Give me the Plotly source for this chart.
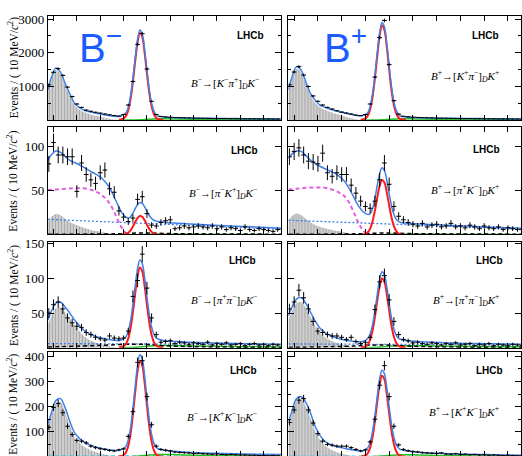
import math
import plotly.graph_objects as go

W, H = 522, 456

# ---------------- x grids (MeV/c^2) ----------------
MASS_BINS = [5085, 5095, 5105, 5115, 5125, 5135, 5145, 5155, 5165, 5175,
             5185, 5195, 5205, 5215, 5225, 5235, 5245, 5255, 5265, 5275,
             5285, 5295, 5305, 5315, 5325, 5335, 5345, 5355, 5365, 5375,
             5385, 5395, 5405, 5415, 5425, 5435, 5445, 5455, 5465, 5475,
             5485, 5495, 5505, 5515, 5525, 5535, 5545, 5555, 5565, 5575]
CURVE_X = [5083, 5090, 5100, 5110, 5120, 5130, 5140, 5150, 5160, 5170, 5180, 5190, 5200,
           5210, 5220, 5230, 5240, 5250, 5255, 5260, 5265, 5270, 5275, 5280, 5285, 5290,
           5295, 5300, 5305, 5310, 5315, 5320, 5330, 5340, 5350, 5360, 5380, 5400, 5430,
           5460, 5500, 5540, 5583]
SIG_X = [5235, 5245, 5250, 5255, 5260, 5265, 5270, 5275, 5280, 5285, 5290, 5295, 5300,
         5305, 5310, 5315, 5320, 5330]
PR_X = [5083, 5090, 5100, 5110, 5120, 5130, 5140, 5150, 5160, 5170, 5180, 5190, 5200,
        5210, 5220, 5230, 5240]
MAG_X = [5083, 5100, 5120, 5140, 5160, 5180, 5190, 5200, 5210, 5220, 5230, 5240, 5250, 5260]
MISID_X = [5240, 5260, 5280, 5300, 5320, 5340, 5360, 5400, 5450, 5500, 5583]
LOW_X = [5083, 5200, 5250, 5280, 5300, 5330, 5400, 5583]
COMB_X = [5083, 5583]

# ---------------- data (events per 10 MeV/c^2) ----------------
DATA_KPI_M = [1050, 1420, 1530, 1330, 980, 700, 480, 380, 300, 265,
              235, 210, 185, 160, 140, 120, 170, 450, 1150, 2250,
              2570, 1520, 560, 170, 110, 95, 88, 80, 74, 70,
              66, 63, 60, 58, 55, 52, 51, 49, 48, 46,
              45, 43, 42, 40, 40, 38, 37, 36, 35, 34]
DATA_KPI_P = [1050, 1430, 1590, 1340, 1000, 720, 560, 450, 380, 330,
              280, 240, 210, 180, 150, 135, 170, 480, 1280, 2450,
              2960, 1650, 580, 180, 115, 100, 90, 82, 76, 71,
              67, 63, 60, 58, 55, 53, 51, 49, 47, 45,
              44, 42, 41, 40, 38, 37, 36, 35, 34, 33]
DATA_PIK_M = [80, 104, 90, 90, 88, 88, 49, 81, 68, 62,
              58, 70, 73, 52, 48, 27, 20, 15, 19, 40,
              43, 24, 11, 10, 14, 16, 17, 7, 8, 10,
              8, 9, 10, 9, 8, 10, 7, 9, 6, 8,
              7, 5, 9, 6, 5, 7, 6, 5, 4, 6]
DATA_PIK_P = [88, 94, 98, 90, 83, 82, 80, 92, 70, 66,
              70, 68, 68, 56, 47, 38, 32, 30, 38, 62,
              81, 57, 32, 21, 17, 14, 12, 10, 13, 9,
              11, 12, 9, 10, 13, 9, 10, 8, 11, 9,
              7, 10, 8, 7, 9, 6, 8, 7, 6, 6]
DATA_PIPI_M = [50, 62, 66, 56, 43, 36, 31, 29, 22, 19,
               15, 13, 11, 17, 14, 13, 14, 24, 74, 97,
               135, 86, 43, 19, 8, 9, 10, 6, 8, 7,
               5, 7, 6, 5, 8, 4, 6, 5, 7, 4,
               5, 6, 3, 5, 6, 4, 5, 3, 5, 4]
DATA_PIPI_P = [56, 66, 83, 72, 56, 38, 24, 22, 19, 17,
               17, 15, 12, 15, 9, 6, 8, 15, 55, 95,
               104, 69, 38, 19, 12, 10, 7, 8, 6, 5,
               7, 6, 4, 6, 5, 7, 4, 5, 6, 3,
               5, 4, 6, 3, 5, 4, 3, 5, 4, 3]
DATA_KK_M = [118, 197, 213, 176, 122, 89, 66, 63, 56, 43,
             37, 33, 30, 26, 24, 28, 32, 82, 180, 376,
             383, 240, 128, 43, 30, 27, 24, 20, 18, 17,
             16, 14, 15, 13, 12, 11, 12, 10, 9, 10,
             9, 8, 8, 7, 7, 6, 6, 5, 6, 5]
DATA_KK_P = [137, 187, 226, 232, 187, 135, 93, 63, 50, 47,
             43, 43, 43, 37, 30, 24, 28, 60, 150, 285,
             363, 240, 122, 48, 30, 25, 22, 20, 17, 16,
             15, 14, 16, 12, 11, 13, 10, 11, 9, 10,
             8, 9, 7, 8, 7, 6, 7, 6, 5, 5]

# ---------------- fit: total ----------------
TOTAL_KPI_M = [900, 1250, 1550, 1420, 1090, 780, 500, 380, 300, 255, 222, 195, 170, 145, 122,
               108, 130, 213, 391, 724, 1235, 1852, 2403, 2678, 2557, 2095, 1477, 909, 502,
               268, 155, 115, 94, 82, 76, 71, 65, 60, 55, 50, 45, 40, 36]
TOTAL_KPI_P = [900, 1260, 1590, 1480, 1120, 780, 580, 440, 380, 330, 290, 250, 218, 190, 160,
               132, 140, 223, 416, 778, 1332, 2002, 2599, 2898, 2766, 2265, 1595, 978, 537,
               283, 161, 117, 94, 82, 76, 71, 65, 60, 55, 50, 45, 40, 36]
TOTAL_PIK_M = [84, 90, 94.5, 93, 88, 84, 81.5, 79, 76, 73, 70, 67, 63, 57, 48, 37, 26, 20, 19,
               20.5, 24.5, 29.6, 34.2, 36.4, 35.4, 31.6, 26.5, 21.8, 18.4, 16.5, 15.5, 15,
               14.4, 13.8, 13.4, 13.1, 12.5, 12, 11.2, 10.4, 9.5, 8.5, 7.5]
TOTAL_PIK_P = [86, 91, 94.5, 94, 89, 84, 80, 77, 74.5, 72, 69.5, 66, 61, 53, 43, 33, 26, 23,
               24, 29.5, 41, 56, 69, 75.5, 72.5, 61.5, 46.5, 32.5, 23, 17.5, 15, 14, 13.3,
               12.9, 12.6, 12.3, 11.8, 11.3, 10.6, 9.9, 9, 8.1, 7.2]
TOTAL_PIPI_M = [40, 52, 64.3, 65.5, 58.7, 49.8, 40, 32.2, 25.3, 20.5, 17.7, 15.3, 13.6, 12.4,
                11.1, 10.4, 11.2, 15.9, 24, 39.1, 62.1, 89.8, 114.4, 126.7, 121.4, 101, 73.5,
                48.3, 30.1, 19.5, 14.2, 12.2, 10.6, 9.8, 9.3, 8.9, 8.1, 7.5, 6.9, 6.4, 5.9,
                5.4, 5.0]
TOTAL_PIPI_P = [46, 58.1, 70.2, 72.3, 63.4, 50.5, 37.7, 27.7, 21.8, 18, 15.1, 13.1, 11.2, 10,
                9.1, 8.5, 9.1, 13.2, 20.2, 33.4, 53.1, 77.1, 98.6, 109.6, 105.2, 87.7, 64.1,
                42.4, 26.8, 17.8, 13.5, 11.9, 10.6, 9.8, 9.3, 8.8, 8, 7.4, 6.8, 6.3, 5.8, 5.3, 5]
TOTAL_KK_M = [132, 172, 224, 232, 195, 141, 97, 75, 60, 50, 43, 37.5, 33, 30, 27.5, 26, 30,
              42, 68, 117, 193, 284, 365, 406, 389, 322, 232, 149, 90, 55, 39, 32, 28, 25,
              23, 21.5, 19, 17, 15, 13.5, 12, 10.8, 9.8]
TOTAL_KK_P = [141, 180, 232, 239, 215, 172, 118, 84, 62, 51, 44, 39, 35, 31, 27.5, 24.5, 25,
              37, 59, 101, 165, 242, 311, 345, 331, 274, 198, 128, 78, 49, 35, 29, 25, 22,
              20, 18.5, 16, 14.5, 12.5, 11, 9.5, 8, 7]

# ---------------- fit: B -> D K signal ----------------
SIG_KPI_M = [10, 52, 120, 299, 634, 1147, 1765, 2317, 2592, 2470, 2007, 1388, 819, 411, 177, 65, 26, 8]
SIG_KPI_P = [11, 56, 130, 324, 688, 1244, 1915, 2513, 2812, 2679, 2177, 1506, 888, 446, 192, 71, 28, 8]
SIG_PIK_M = [0.1, 0.4, 1.0, 2.5, 5.2, 9.5, 14.6, 19.2, 21.4, 20.4, 16.6, 11.5, 6.8, 3.4, 1.5, 0.5, 0.2, 0.1]
SIG_PIK_P = [0.2, 1.2, 2.9, 7.1, 15.1, 27.3, 42.1, 55.2, 61.8, 58.9, 47.9, 33.1, 19.5, 9.8, 4.2, 1.6, 0.6, 0.2]
SIG_PIPI_M = [0.5, 2.3, 5.3, 13.3, 28.3, 51.2, 78.8, 103.4, 115.7, 110.2, 89.6, 61.9, 36.5, 18.3, 7.9, 2.9, 1.2, 0.3]
SIG_PIPI_P = [0.4, 2.0, 4.6, 11.5, 24.4, 44.1, 67.9, 89.1, 99.7, 95.0, 77.2, 53.4, 31.5, 15.8, 6.8, 2.5, 1.0, 0.3]
SIG_KK_M = [2, 8, 18, 44, 93, 169, 260, 341, 382, 364, 296, 205, 121, 61, 26, 10, 4, 1]
SIG_KK_P = [1, 6, 15, 37, 79, 143, 220, 289, 323, 308, 250, 173, 102, 51, 22, 8, 3, 1]

# ---------------- fit: partially reconstructed (grey) ----------------
PR_KPI_M = [850, 1190, 1490, 1360, 1030, 720, 440, 320, 240, 190, 150, 120, 90, 60, 30, 10, 0]
PR_KPI_P = [860, 1200, 1530, 1420, 1060, 720, 500, 380, 300, 250, 200, 160, 120, 80, 40, 12, 0]
PR_PIK_M = [15, 20, 23.5, 22, 18, 14.5, 12, 10, 8, 6.5, 5, 4, 3, 2, 1.2, 0.5, 0]
PR_PIK_P = [16, 21, 24, 22, 18, 14, 11, 9, 7.5, 6, 5, 4, 3, 2, 1.2, 0.5, 0]
PR_PIPI_M = [33, 45, 57, 58, 51, 42, 32, 24, 17, 12, 9, 6.5, 4.5, 3, 1.5, 0.5, 0]
PR_PIPI_P = [40, 52, 64, 66, 57, 44, 31, 21, 15, 11, 8, 6, 4, 2.5, 1.3, 0.5, 0]
PR_KK_M = [122, 160, 212, 218, 178, 125, 80, 58, 42, 31, 23, 17, 12, 8, 5, 2, 0]
PR_KK_P = [130, 170, 222, 228, 198, 152, 100, 66, 45, 32, 23, 16, 11, 7, 4, 1.5, 0]

# ---------------- fit: other components ----------------
MAG_PIK_M = [50.5, 51, 52, 52.5, 52.5, 50, 47.5, 44, 39, 31, 20, 9, 2, 0]
MAG_PIK_P = [51, 52, 53, 53.5, 53, 50, 47.5, 44, 37, 26, 14, 5, 1, 0]
COMB_PIK_M = [17.5, 6.5]
COMB_PIK_P = [16.5, 6.5]
COMB_PIPI_M = [6, 4.5]
COMB_PIPI_P = [5.5, 4]
DPI_PIK_M = [0.8, 1, 1.5, 2.2, 2.2, 1.6, 1.2, 0.8]
DPI_PIK_P = [0.8, 1, 1.5, 2.2, 2.2, 1.6, 1.2, 0.8]
DPI_PIPI_M = [1, 3.5, 5, 5, 4.5, 3, 1.5, 0.5]
DPI_PIPI_P = [0.5, 2, 3.5, 4, 3.5, 2.5, 1.2, 0.4]
CYAN_KK_M = [3.5, 3.5, 3.5, 3.5, 3.5, 3.5, 3.2, 2.8]
CYAN_KK_P = [3, 3, 3, 3, 3, 3, 2.8, 2.5]
GREEN_KPI_M = [0, 3, 12, 30, 42, 40, 35, 26, 18, 13, 8]
GREEN_KPI_P = [0, 3, 12, 30, 42, 40, 35, 26, 18, 13, 8]
GREEN_PIK_M = [0, 0.1, 0.3, 0.6, 0.8, 0.8, 0.7, 0.6, 0.5, 0.4, 0.3]
GREEN_PIK_P = [0, 0.1, 0.3, 0.6, 0.8, 0.8, 0.7, 0.6, 0.5, 0.4, 0.3]
GREEN_PIPI_M = [0, 0.2, 1, 2.5, 3.2, 3.2, 3, 2.5, 2, 1.6, 1.2]
GREEN_PIPI_P = [0, 0.2, 1, 2.5, 3, 3, 2.8, 2.4, 2, 1.6, 1.2]
GREEN_KK_M = [0, 1, 4, 8, 10, 10, 9, 7, 5, 4, 3]
GREEN_KK_P = [0, 1, 4, 7, 8.5, 8.5, 8, 6, 4.5, 3.5, 2.5]

# ---------------- labels ----------------
DECAY_LABELS = [
    "<i>B</i><sup>−</sup>→[<i>K</i><sup>−</sup><i>π</i><sup>+</sup>]<sub><i>D</i></sub><i>K</i><sup>−</sup>",
    "<i>B</i><sup>+</sup>→[<i>K</i><sup>+</sup><i>π</i><sup>−</sup>]<sub><i>D</i></sub><i>K</i><sup>+</sup>",
    "<i>B</i><sup>−</sup>→[<i>π</i><sup>−</sup><i>K</i><sup>+</sup>]<sub><i>D</i></sub><i>K</i><sup>−</sup>",
    "<i>B</i><sup>+</sup>→[<i>π</i><sup>+</sup><i>K</i><sup>−</sup>]<sub><i>D</i></sub><i>K</i><sup>+</sup>",
    "<i>B</i><sup>−</sup>→[<i>π</i><sup>+</sup><i>π</i><sup>−</sup>]<sub><i>D</i></sub><i>K</i><sup>−</sup>",
    "<i>B</i><sup>+</sup>→[<i>π</i><sup>+</sup><i>π</i><sup>−</sup>]<sub><i>D</i></sub><i>K</i><sup>+</sup>",
    "<i>B</i><sup>−</sup>→[<i>K</i><sup>+</sup><i>K</i><sup>−</sup>]<sub><i>D</i></sub><i>K</i><sup>−</sup>",
    "<i>B</i><sup>+</sup>→[<i>K</i><sup>+</sup><i>K</i><sup>−</sup>]<sub><i>D</i></sub><i>K</i><sup>+</sup>",
]
CHARGE_LABELS = ["B<sup>−</sup>", "B<sup>+</sup>"]
Y_TITLE = "Events / ( 10 MeV/<i>c</i><sup>2</sup>)"
Y_TICKS = [[1000, 2000, 3000], [50, 100], [50, 100, 150], [100, 200, 300, 400]]
Y_MINOR = [[500, 1500, 2500], None, None, [50, 150, 250, 350]]

PANELS = [
    dict(data=DATA_KPI_M, total=TOTAL_KPI_M, sig=SIG_KPI_M, pr=PR_KPI_M, green=GREEN_KPI_M),
    dict(data=DATA_KPI_P, total=TOTAL_KPI_P, sig=SIG_KPI_P, pr=PR_KPI_P, green=GREEN_KPI_P),
    dict(data=DATA_PIK_M, total=TOTAL_PIK_M, sig=SIG_PIK_M, pr=PR_PIK_M, green=GREEN_PIK_M,
         mag=MAG_PIK_M, comb=COMB_PIK_M, dpi=DPI_PIK_M),
    dict(data=DATA_PIK_P, total=TOTAL_PIK_P, sig=SIG_PIK_P, pr=PR_PIK_P, green=GREEN_PIK_P,
         mag=MAG_PIK_P, comb=COMB_PIK_P, dpi=DPI_PIK_P),
    dict(data=DATA_PIPI_M, total=TOTAL_PIPI_M, sig=SIG_PIPI_M, pr=PR_PIPI_M, green=GREEN_PIPI_M,
         comb=COMB_PIPI_M, dpi=DPI_PIPI_M),
    dict(data=DATA_PIPI_P, total=TOTAL_PIPI_P, sig=SIG_PIPI_P, pr=PR_PIPI_P, green=GREEN_PIPI_P,
         comb=COMB_PIPI_P, dpi=DPI_PIPI_P),
    dict(data=DATA_KK_M, total=TOTAL_KK_M, sig=SIG_KK_M, pr=PR_KK_M, green=GREEN_KK_M, cyan=CYAN_KK_M),
    dict(data=DATA_KK_P, total=TOTAL_KK_P, sig=SIG_KK_P, pr=PR_KK_P, green=GREEN_KK_P, cyan=CYAN_KK_P),
]

# ---------------- geometry (pixels) & styles ----------------
COL_PX = [(48, 282), (289, 522)]
ROW_PX = [(10, 115.7), (122.7, 231.5), (239.5, 346.3), (351, 456)]
X_RANGES = [[5083, 5583], [5083, 5572.5]]
Y_RANGES = [[0, 3097], [0.5, 121.4], [0, 152], [3.9, 415.7]]
LHCB_POS = [(267, 30), (502, 30), (260, 146), (503, 145), (258, 258), (506, 258), (259, 369), (506, 369)]
DECAY_POS = [(261, 78), (502, 71), (259, 189), (502, 186), (259, 298), (502, 298), (259, 416), (502, 411)]
YTITLE_Y = [62, 177, 293, 403]

BLUE = "#3f7fe8"
RED = "#ff1a1a"
MAGENTA = "#e05ce6"
GREEN = "#22c022"
CYAN = "#3cc8d8"
SERIF = "Liberation Serif"
SANS = "Liberation Sans"

fig = go.Figure()
layout = dict(width=W, height=H, autosize=False, margin=dict(l=0, r=0, t=0, b=0),
              plot_bgcolor="white", paper_bgcolor="white", showlegend=False)
annotations = []

for p, pan in enumerate(PANELS):
    r, c = divmod(p, 2)
    xs = "" if p == 0 else str(p + 1)
    xref, yref = "x" + xs, "y" + xs
    x0, x1 = COL_PX[c]
    ytop, ybot = ROW_PX[r]
    layout["xaxis" + xs] = dict(domain=[x0 / W, x1 / W], range=X_RANGES[c], anchor=yref,
                                showline=True, mirror="ticks", linecolor="black", linewidth=1,
                                ticks="inside", ticklen=5, tickcolor="black", tick0=5095, dtick=50,
                                showticklabels=False, showgrid=False, zeroline=False)
    ya = dict(domain=[1 - ybot / H, 1 - ytop / H], range=Y_RANGES[r], anchor=xref,
              showline=True, mirror="ticks", linecolor="black", linewidth=1,
              ticks="inside", ticklen=6, tickcolor="black", tickmode="array",
              tickvals=Y_TICKS[r], showticklabels=(c == 0),
              tickfont=dict(family=SERIF, size=13, color="black"),
              showgrid=False, zeroline=False)
    if Y_MINOR[r]:
        ya["minor"] = dict(tickmode="array", tickvals=Y_MINOR[r], ticks="inside",
                           ticklen=3, tickcolor="black", showgrid=False)
    layout["yaxis" + xs] = ya

    kw = dict(xaxis=xref, yaxis=yref, hoverinfo="skip")
    # partially reconstructed background (hatched grey)
    fig.add_trace(go.Scatter(x=PR_X, y=pan["pr"], mode="lines", line=dict(width=0, shape="spline"),
                             fill="tozeroy", fillcolor="#cfcfcf",
                             fillpattern=dict(shape="|", size=3, solidity=0.45,
                                              fgcolor="#7c7c7c", bgcolor="#d6d6d6"), **kw))
    if "comb" in pan:
        fig.add_trace(go.Scatter(x=COMB_X, y=pan["comb"], mode="lines",
                                 line=dict(color=BLUE, width=1.3, dash="2px,2px"), **kw))
    if "mag" in pan:
        fig.add_trace(go.Scatter(x=MAG_X, y=pan["mag"], mode="lines",
                                 line=dict(color=MAGENTA, width=2, dash="4px,3px", shape="spline"), **kw))
    if "cyan" in pan:
        fig.add_trace(go.Scatter(x=LOW_X, y=pan["cyan"], mode="lines",
                                 line=dict(color=CYAN, width=1.5, dash="4px,3px", shape="spline"), **kw))
    fig.add_trace(go.Scatter(x=MISID_X, y=pan["green"], mode="lines",
                             line=dict(color=GREEN, width=1.5, shape="spline"), **kw))
    if "dpi" in pan:
        fig.add_trace(go.Scatter(x=LOW_X, y=pan["dpi"], mode="lines",
                                 line=dict(color="black", width=1.5, dash="4px,3px", shape="spline"), **kw))
    fig.add_trace(go.Scatter(x=SIG_X, y=pan["sig"], mode="lines",
                             line=dict(color=RED, width=2, shape="spline"), **kw))
    fig.add_trace(go.Scatter(x=CURVE_X, y=pan["total"], mode="lines",
                             line=dict(color=BLUE, width=1.5, shape="spline"), **kw))
    fig.add_trace(go.Scatter(x=MASS_BINS, y=pan["data"], mode="markers",
                             marker=dict(size=1, color="black"),
                             error_x=dict(type="constant", value=5, width=0, thickness=1, color="black"),
                             error_y=dict(type="data", array=[math.sqrt(v) for v in pan["data"]],
                                          width=0, thickness=1, color="black"), **kw))

    lx, ly = LHCB_POS[p]
    annotations.append(dict(text="<b>LHCb</b>", xref="paper", yref="paper", x=lx / W, y=1 - ly / H,
                            xanchor="right", yanchor="middle", showarrow=False,
                            font=dict(family=SANS, size=10, color="black")))
    dx, dy = DECAY_POS[p]
    annotations.append(dict(text=DECAY_LABELS[p], xref="paper", yref="paper", x=dx / W, y=1 - dy / H,
                            xanchor="right", yanchor="middle", showarrow=False,
                            font=dict(family=SERIF, size=11, color="black")))

for r in range(4):
    annotations.append(dict(text=Y_TITLE, xref="paper", yref="paper", x=13 / W, y=1 - YTITLE_Y[r] / H,
                            xanchor="center", yanchor="middle", textangle=-90, showarrow=False,
                            font=dict(family=SERIF, size=11.5, color="black")))

for c, (cx, cy) in enumerate([(77, 40), (323, 40)]):
    annotations.append(dict(text=CHARGE_LABELS[c], xref="paper", yref="paper", x=cx / W, y=1 - cy / H,
                            xanchor="left", yanchor="middle", showarrow=False,
                            font=dict(family=SANS, size=40, color="#1a5cff")))

layout["annotations"] = annotations
fig.update_layout(**layout)

fig.write_html("out.html", config={"displayModeBar": False},
               post_script="document.body.style.margin='0';")
